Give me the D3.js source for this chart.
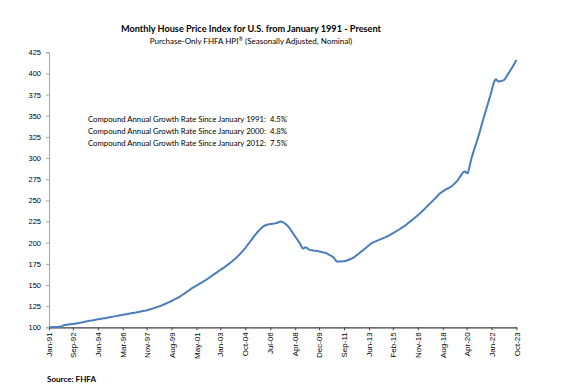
<!DOCTYPE html>
<html>
<head>
<meta charset="utf-8">
<script src="https://cdn.jsdelivr.net/npm/d3@7"></script>
<style>
  html, body { margin: 0; padding: 0; background: #ffffff; }
  svg { display: block; }
  text { white-space: pre; }
</style>
</head>
<body>
<svg id="chart" width="564" height="391"></svg>
<script>
// ---- DATA ----
const startYear = 1991; // first value = January 1991, monthly through October 2023
const hpiValues = [
  100.0, 100.2, 100.1, 100.4, 100.3, 100.2, 100.5, 100.4, 100.7, 100.6, 100.9, 101.3, // 1991
  102.3, 102.7, 102.6, 103.0, 103.2, 103.3, 103.6, 103.8, 103.9, 104.1, 104.3, 104.6, // 1992
  104.9, 105.1, 105.4, 105.6, 105.9, 106.1, 106.5, 106.8, 107.1, 107.3, 107.7, 107.9, // 1993
  108.1, 108.4, 108.6, 108.9, 109.2, 109.4, 109.6, 109.9, 110.1, 110.3, 110.6, 110.8, // 1994
  111.1, 111.3, 111.5, 111.8, 112.1, 112.3, 112.6, 112.9, 113.2, 113.5, 113.7, 114.0, // 1995
  114.3, 114.5, 114.8, 115.0, 115.3, 115.5, 115.7, 116.0, 116.2, 116.5, 116.8, 117.0, // 1996
  117.3, 117.5, 117.8, 118.0, 118.3, 118.6, 118.9, 119.2, 119.5, 119.6, 120.0, 120.4, // 1997
  120.8, 121.3, 121.7, 122.1, 122.6, 123.1, 123.5, 124.0, 124.4, 124.9, 125.4, 126.0, // 1998
  126.6, 127.2, 127.8, 128.5, 129.2, 129.8, 130.5, 131.1, 131.9, 132.6, 133.3, 134.0, // 1999
  134.7, 135.4, 136.3, 137.3, 138.2, 139.1, 140.1, 141.0, 142.0, 143.0, 143.9, 144.9, // 2000
  146.0, 146.8, 147.7, 148.5, 149.3, 150.1, 151.0, 151.8, 152.6, 153.4, 154.3, 155.2, // 2001
  156.0, 157.0, 158.0, 159.0, 159.9, 160.9, 161.9, 162.8, 163.8, 164.8, 165.8, 166.8, // 2002
  167.7, 168.7, 169.7, 170.6, 171.6, 172.6, 173.6, 174.7, 175.8, 176.9, 178.1, 179.3, // 2003
  180.5, 181.7, 183.0, 184.4, 185.8, 187.3, 188.8, 190.4, 192.0, 193.7, 195.5, 197.3, // 2004
  199.2, 201.1, 203.0, 204.9, 206.8, 208.6, 210.4, 212.0, 213.6, 215.1, 216.5, 217.8, // 2005
  219.0, 219.9, 220.6, 221.1, 221.5, 221.8, 222.0, 222.1, 222.3, 222.5, 222.8, 223.2, // 2006
  223.6, 224.2, 224.7, 225.0, 224.6, 223.9, 223.0, 222.0, 220.7, 219.2, 217.5, 215.6, // 2007
  213.4, 211.3, 209.3, 207.2, 205.2, 203.1, 201.0, 199.0, 196.0, 193.5, 193.0, 194.2, // 2008
  194.4, 193.6, 192.5, 191.5, 191.2, 191.0, 190.8, 190.6, 190.4, 190.3, 190.1, 189.7, // 2009
  189.4, 189.0, 188.6, 188.3, 188.1, 187.6, 187.0, 186.1, 185.3, 184.6, 183.8, 182.8, // 2010
  181.0, 179.0, 177.8, 177.6, 177.9, 177.7, 177.8, 178.0, 178.2, 178.4, 178.6, 179.2, // 2011
  179.8, 180.4, 181.0, 181.6, 182.3, 183.4, 184.5, 185.6, 186.7, 187.8, 188.9, 190.0, // 2012
  191.1, 192.3, 193.5, 194.6, 195.8, 197.0, 198.2, 199.1, 199.9, 200.6, 201.2, 201.8, // 2013
  202.4, 203.0, 203.6, 204.2, 204.8, 205.4, 206.0, 206.6, 207.3, 208.0, 208.7, 209.5, // 2014
  210.3, 211.1, 211.9, 212.7, 213.6, 214.4, 215.3, 216.2, 217.1, 218.0, 218.9, 219.9, // 2015
  221.0, 222.1, 223.2, 224.3, 225.5, 226.6, 227.7, 228.9, 230.0, 231.2, 232.3, 233.5, // 2016
  234.7, 236.1, 237.5, 238.9, 240.3, 241.7, 243.1, 244.5, 245.9, 247.3, 248.7, 250.1, // 2017
  251.5, 252.9, 254.3, 255.8, 257.6, 258.6, 259.6, 260.6, 261.5, 262.4, 263.2, 264.0, // 2018
  264.6, 265.3, 266.2, 267.3, 268.6, 270.0, 271.4, 272.7, 274.6, 276.8, 279.0, 281.0, // 2019
  283.0, 283.8, 284.2, 282.5, 282.0, 286.5, 293.0, 299.0, 303.8, 308.2, 312.6, 317.0, // 2020
  321.3, 325.7, 330.4, 335.6, 340.7, 345.5, 350.3, 355.0, 359.8, 364.6, 369.4, 374.0, // 2021
  379.0, 384.5, 389.5, 392.6, 393.0, 391.2, 390.4, 390.8, 391.2, 391.5, 391.8, 392.8, // 2022
  395.0, 397.2, 399.5, 401.8, 404.0, 406.3, 408.6, 411.0, 413.4, 416.0                // 2023
];
const xTickLabels = ["Jan-91","Sep-92","Jun-94","Mar-96","Nov-97","Aug-99","May-01","Jan-03",
  "Oct-04","Jul-06","Apr-08","Dec-09","Sep-11","Jun-13","Feb-15","Nov-16","Aug-18","Apr-20",
  "Jan-22","Oct-23"];
const yTickValues = [100,125,150,175,200,225,250,275,300,325,350,375,400,425];
const titleText = "Monthly House Price Index for U.S. from January 1991 - Present";
const subtitleParts = ["Purchase-Only FHFA HPI", "\u00AE", " (Seasonally Adjusted, Nominal)"];
const noteLines = [
  "Compound Annual Growth Rate Since January 1991:  4.5%",
  "Compound Annual Growth Rate Since January 2000:  4.8%",
  "Compound Annual Growth Rate Since January 2012:  7.5%"
];
const sourceText = "Source: FHFA";

// ---- CHART ----
const svg = d3.select("#chart");
const monthNames = ["Jan","Feb","Mar","Apr","May","Jun","Jul","Aug","Sep","Oct","Nov","Dec"];
function labelToIndex(lbl) {
  const [m, yy] = lbl.split("-");
  const yr = +yy < 50 ? 2000 + +yy : 1900 + +yy;
  return (yr - startYear) * 12 + monthNames.indexOf(m);
}

const x = d3.scaleLinear().domain([0, hpiValues.length - 1]).range([49, 516.5]);
const y = d3.scaleLinear().domain([100, 425]).range([327.3, 52.3]);

// Titles
svg.append("text")
  .attr("x", 251).attr("y", 32)
  .attr("text-anchor", "middle")
  .attr("font-family", "Lato, 'Open Sans', sans-serif")
  .attr("font-weight", "bold")
  .attr("font-size", 9.5)
  .attr("fill", "#000")
  .attr("textLength", 260).attr("lengthAdjust", "spacingAndGlyphs")
  .text(titleText);
const sub = svg.append("text")
  .attr("x", 251).attr("y", 44)
  .attr("text-anchor", "middle")
  .attr("font-family", "Lato, 'Open Sans', sans-serif")
  .attr("font-size", 8)
  .attr("fill", "#000");
sub.append("tspan").text(subtitleParts[0]);
sub.append("tspan").attr("font-size", 5.5).attr("dy", -3).text(subtitleParts[1]);
sub.append("tspan").attr("dy", 3).text(subtitleParts[2]);

// Y axis
const yAxis = d3.axisLeft(y).tickValues(yTickValues).tickSize(3).tickPadding(5);
const gy = svg.append("g").attr("transform", "translate(49,0)").call(yAxis);
gy.select(".domain").attr("stroke", "#a6a6a6").attr("stroke-width", 1);
gy.selectAll(".tick line").attr("stroke", "#a6a6a6");
gy.selectAll(".tick text")
  .attr("font-family", "'Liberation Sans', Arial, sans-serif")
  .attr("font-size", 7.5).attr("fill", "#000");

// X axis
const xAxis = d3.axisBottom(x)
  .tickValues(xTickLabels.map(labelToIndex))
  .tickFormat((d, i) => xTickLabels[i])
  .tickSize(3).tickSizeOuter(0);
const gx = svg.append("g").attr("transform", "translate(0,327.3)").call(xAxis);
gx.select(".domain").attr("stroke", "#404040").attr("stroke-width", 1.2);
gx.selectAll(".tick line").attr("stroke", "#404040");
gx.selectAll(".tick text")
  .attr("font-family", "'Liberation Sans', Arial, sans-serif")
  .attr("font-size", 8).attr("fill", "#000")
  .attr("text-anchor", "end")
  .attr("transform", "rotate(-90)")
  .attr("x", -5).attr("y", 0).attr("dy", "0.32em");

// Line
const line = d3.line().x((d, i) => x(i)).y(d => y(d));
svg.append("path")
  .datum(hpiValues)
  .attr("fill", "none")
  .attr("stroke", "#4a7ebb")
  .attr("stroke-width", 2)
  .attr("stroke-linejoin", "round")
  .attr("d", line);

// Notes
svg.append("g").selectAll("text").data(noteLines).join("text")
  .attr("x", 88).attr("y", (d, i) => 121.5 + i * 12)
  .attr("font-family", "Lato, 'Open Sans', sans-serif")
  .attr("font-size", 7.5).attr("fill", "#000")
  .attr("textLength", 199).attr("lengthAdjust", "spacingAndGlyphs")
  .text(d => d);

// Source
svg.append("text")
  .attr("x", 47).attr("y", 382)
  .attr("font-family", "Lato, 'Open Sans', sans-serif")
  .attr("font-weight", "bold").attr("font-size", 8)
  .attr("fill", "#000")
  .attr("textLength", 49).attr("lengthAdjust", "spacingAndGlyphs")
  .text(sourceText);
</script>
</body>
</html>
